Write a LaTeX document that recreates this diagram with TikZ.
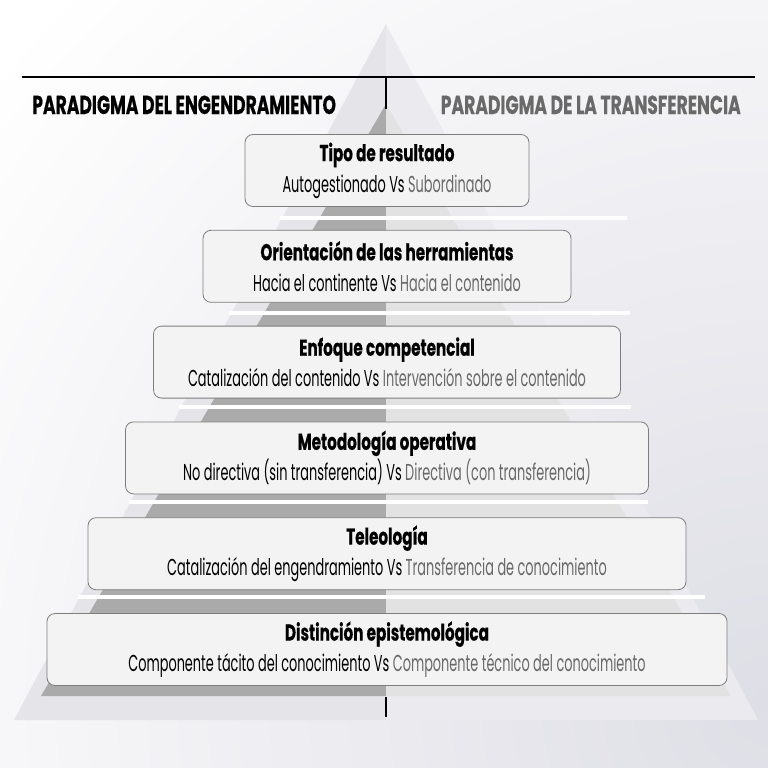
\documentclass[tikz,border=0pt]{standalone}
\usepackage{fontspec}
\setmainfont{Poppins}[FakeStretch=0.56]
\newfontfamily\heavyfont{Poppins}[FakeStretch=0.66,FakeBold=0.4]
\usetikzlibrary{positioning}
\definecolor{bgshade}{RGB}{222,222,230}
\definecolor{outerL}{RGB}{228,228,233}
\definecolor{outerR}{RGB}{235,235,239}
\definecolor{innerL}{RGB}{170,170,170}
\definecolor{innerR}{RGB}{226,226,226}
\definecolor{boxfill}{RGB}{243,243,243}
\definecolor{boxline}{RGB}{125,125,125}
\definecolor{softtext}{RGB}{105,105,105}
\def\dy{23pt}
\tikzstyle{tier}=[draw=boxline,fill=boxfill,rounded corners=8pt,line width=0.8pt,
  minimum height=72pt,inner sep=0pt,align=center,font=\fontsize{23}{31}\selectfont]
\tikzstyle{head}=[inner sep=0pt,font=\fontsize{26}{26}\selectfont\heavyfont\bfseries]
\tikzstyle{gap}=[white,line width=3.5pt]
\newcommand{\newTier}[6]{\node[tier,minimum width=#2](#1)[#6]{{\heavyfont\bfseries #3}\\#4 Vs \textcolor{softtext}{#5}};}
\newcommand{\newGap}[3]{\draw[gap] (#2,#1) -- (#3,#1);}

\begin{document}
\begin{tikzpicture}[x=1pt,y=-1pt,node distance=\dy,
      line width=2.5pt
      ]
      \useasboundingbox (0,0) rectangle (768,768);
      % background
      \fill[white] (0,0) rectangle (768,768);
      \begin{scope}
        \clip (0,0) rectangle (768,768);
        \shade[inner color=bgshade,outer color=white] (768,700) circle (1000);
      \end{scope}
      % pyramids
      \coordinate (apex) at (386,24);
      \coordinate (top) at (386,104);
      \fill[outerL] (apex) -- (14,720) -- (386,720) -- cycle;
      \fill[outerR] (apex) -- (758,720) -- (386,720) -- cycle;
      \fill[innerL] (top) -- (41,696) -- (386,696) -- cycle;
      \fill[innerR] (top) -- (731,696) -- (386,696) -- cycle;
      \newGap{218}{280}{627}
      \newGap{313}{229}{630}
      \newGap{407}{179}{631}
      \newGap{502}{129}{648}
      \newGap{597}{78}{705}
      % rule and headings
      \coordinate (ruleL) at (22,77);
      \coordinate (ruleR) at (755,77);
      \coordinate (ruleM) at (386,77);
      \coordinate (tickT) at (386,109);
      \draw (ruleL) -- (ruleR);
      \draw (ruleM) -- (tickT);
      \node[head,anchor=base west] (hdL) at (31,114) {PARADIGMA DEL ENGENDRAMIENTO};
      \node[head,anchor=base east,text=softtext] (hdR) at (742,114) {PARADIGMA DE LA TRANSFERENCIA};
      % tiers
      \node[tier,minimum width=284pt] (t1) at (387,170.5) {{\heavyfont\bfseries Tipo de resultado}\\Autogestionado Vs \textcolor{softtext}{Subordinado}};
      \newTier{t2}{368pt}{Orientación de las herramientas}{Hacia el continente}{Hacia el contenido}{below=of t1}
      \newTier{t3}{467pt}{Enfoque competencial}{Catalización del contenido}{Intervención sobre el contenido}{below=of t2}
      \newTier{t4}{523pt}{Metodología operativa}{No directiva (sin transferencia)}{Directiva (con transferencia)}{below=of t3}
      \newTier{t5}{598pt}{Teleología}{Catalización del engendramiento}{Transferencia de conocimiento}{below=of t4}
      \newTier{t6}{680pt}{Distinción epistemológica}{Componente tácito del conocimiento}{Componente técnico del conocimiento}{below=of t5}
      % bottom tick
      \coordinate (tickM) at (386,697);
      \coordinate (tickB) at (386,717);
      \draw[line width=2pt] (tickM) -- (tickB);
    \end{tikzpicture}
\end{document}
